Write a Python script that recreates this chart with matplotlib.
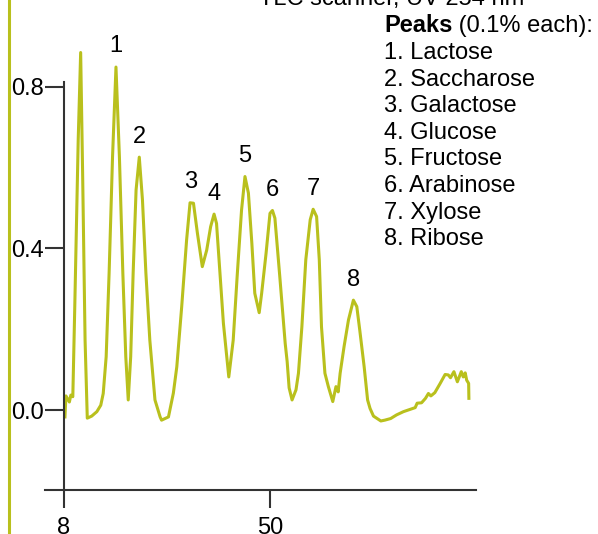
import matplotlib
matplotlib.use("Agg")
import matplotlib.pyplot as plt
from matplotlib.lines import Line2D
import numpy as np

plt.rcParams["font.family"] = ["Liberation Sans", "DejaVu Sans"]

# Densitogram trace (migration distance, absorbance)
trace_x = [8.2, 8.4, 9.1, 9.4, 9.8, 10.2, 10.9, 11.4, 11.8, 12.3, 12.75, 13.65,
           14.7, 15.5, 16.0, 16.6, 17.2, 17.9, 18.6, 19.3, 20.0, 20.6, 21.1, 21.6,
           22.1, 22.7, 23.35, 24.0, 24.7, 25.5, 26.55, 27.6, 27.9, 29.3, 30.3, 31.0,
           32.0, 33.0, 33.7, 34.4, 35.2, 36.2, 37.1, 37.9, 38.6, 39.1, 39.8, 40.5,
           41.6, 42.5, 43.3, 44.2, 44.9, 45.6, 46.3, 46.9, 47.8, 48.3, 49.2, 50.0,
           50.5, 51.0, 52.0, 53.1, 53.5, 53.9, 54.5, 55.3, 55.8, 56.5, 57.3, 58.2,
           58.8, 59.5, 60.05, 60.5, 61.2, 61.9, 62.8, 63.45, 63.9, 64.3, 65.1, 66.0,
           67.0, 67.7, 68.3, 69.2, 69.9, 70.4, 71.1, 72.6, 73.4, 74.6, 75.8, 77.2,
           79.6, 80.0, 80.9, 81.7, 82.3, 82.8, 83.6, 84.7, 85.7, 86.35, 86.8, 87.5,
           88.2, 89.0, 89.4, 89.8, 90.1, 90.5, 90.55]
trace_y = [-0.017, 0.035, 0.02, 0.037, 0.033, 0.256, 0.669, 0.885, 0.587, 0.173, -0.02, -0.015,
           -0.004, 0.012, 0.041, 0.132, 0.339, 0.627, 0.849, 0.627, 0.339, 0.132, 0.025, 0.132,
           0.339, 0.545, 0.626, 0.52, 0.339, 0.173, 0.025, -0.017, -0.025, -0.017, 0.042, 0.107,
           0.256, 0.421, 0.513, 0.512, 0.438, 0.355, 0.396, 0.454, 0.485, 0.462, 0.339, 0.215,
           0.082, 0.173, 0.33, 0.495, 0.578, 0.537, 0.413, 0.289, 0.241, 0.289, 0.388, 0.487,
           0.494, 0.475, 0.33, 0.165, 0.12, 0.055, 0.025, 0.05, 0.091, 0.206, 0.372, 0.471,
           0.497, 0.479, 0.372, 0.206, 0.091, 0.058, 0.021, 0.058, 0.045, 0.091, 0.157, 0.223,
           0.272, 0.256, 0.198, 0.107, 0.025, 0.004, -0.015, -0.027, -0.025, -0.021, -0.012, -0.004,
           0.006, 0.017, 0.018, 0.029, 0.041, 0.035, 0.043, 0.066, 0.088, 0.087, 0.08, 0.095,
           0.07, 0.095, 0.082, 0.092, 0.074, 0.066, 0.029]

# Peak apex positions and their numbers
peak_x = [18.6, 23.35, 33.9, 38.6, 44.9, 50.5, 58.8, 67.0]
peak_labels = ["1", "2", "3", "4", "5", "6", "7", "8"]

compounds = ["Lactose", "Saccharose", "Galactose", "Glucose",
             "Fructose", "Arabinose", "Xylose", "Ribose"]

x_ticks = [8, 50]
y_ticks = [0.0, 0.4, 0.8]
y_tick_labels = ["0.0", "0.4", "0.8"]

LINE_COLOR = "#b9c01d"
AXIS_COLOR = "#333333"
FS = 17

W, H = 598, 534
fig = plt.figure(figsize=(W / 100, H / 100), dpi=100)
ax = fig.add_axes([45 / W, 29 / H, 431 / W, 423 / H])
ax.set_xlim(4.13, 92.0)
ax.set_ylim(-0.235, 0.812)

ax.plot(trace_x, trace_y, color=LINE_COLOR, lw=2.2, solid_joinstyle="round",
        clip_on=False)

# Peak numbers above each apex
for px, lab in zip(peak_x, peak_labels):
    py = np.interp(px, trace_x, trace_y)
    ax.annotate(lab, (px, py), xytext=(0, 10.5), textcoords="offset points",
                ha="center", va="baseline", fontsize=FS, color="black",
                annotation_clip=False)

# Crossed axis lines
for side in ("top", "right"):
    ax.spines[side].set_visible(False)
ax.spines["left"].set_position(("data", 8))
ax.spines["bottom"].set_position(("data", -0.198))
ax.spines["left"].set_bounds(-0.198, 0.812)
for side in ("left", "bottom"):
    ax.spines[side].set_color(AXIS_COLOR)
    ax.spines[side].set_linewidth(1.5)

ax.set_xticks(x_ticks)
ax.set_xticklabels([str(t) for t in x_ticks])
ax.set_yticks(y_ticks)
ax.set_yticklabels(y_tick_labels)
ax.tick_params(axis="both", direction="out", color=AXIS_COLOR, width=1.5,
               labelsize=FS, labelcolor="black")
ax.tick_params(axis="x", length=13, pad=6.5)
ax.tick_params(axis="y", length=13.7, pad=0.5)
ax.patch.set_visible(False)

# Title (partly above the canvas) and compound list
fig.text(391.5 / W, 1 - 5 / H, "TLC scanner, UV 254 nm", ha="center",
         va="baseline", fontsize=FS)
legend_x = 384 / W
t = fig.text(legend_x, 1 - 32 / H, "Peaks", fontsize=FS, fontweight="bold",
             va="baseline")
fig.canvas.draw()
bb = t.get_window_extent()
fig.text(bb.x1 / W, 1 - 32 / H, " (0.1% each):", fontsize=FS, va="baseline")
for i, name in enumerate(compounds):
    fig.text(legend_x, 1 - (59 + 26.6 * i) / H, f"{i + 1}. {name}",
             fontsize=FS, va="baseline")

# Vertical accent bar at the left edge
fig.add_artist(Line2D([8.5 / W, 8.5 / W], [0, 1], transform=fig.transFigure,
                      color=LINE_COLOR, lw=2.2))

fig.savefig("out.png", dpi=100)
